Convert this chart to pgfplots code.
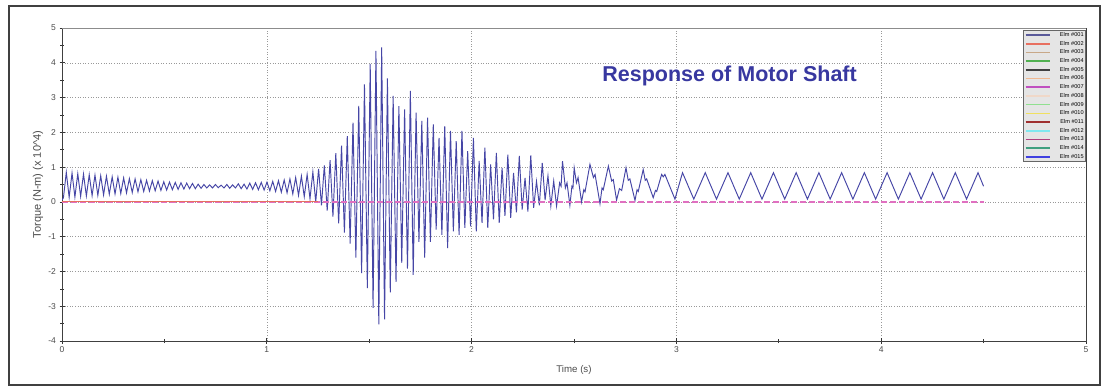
\documentclass[border=0pt]{standalone}
\usepackage{pgfplots}
\pgfplotsset{compat=1.18}
\usepackage{fontspec}
\setmainfont{Liberation Sans}
\definecolor{sig}{HTML}{4646A6}
\definecolor{ttl}{HTML}{3838A0}
\definecolor{c01}{HTML}{5A5A9A}
\definecolor{c02}{HTML}{E87060}
\definecolor{c03}{HTML}{C8A888}
\definecolor{c04}{HTML}{50B050}
\definecolor{c05}{HTML}{404040}
\definecolor{c06}{HTML}{F0B890}
\definecolor{c07}{HTML}{C050C0}
\definecolor{c08}{HTML}{F0D8C8}
\definecolor{c09}{HTML}{90E090}
\definecolor{c10}{HTML}{F0E060}
\definecolor{c11}{HTML}{A03030}
\definecolor{c12}{HTML}{80E8F0}
\definecolor{c13}{HTML}{B04080}
\definecolor{c14}{HTML}{40A080}
\definecolor{c15}{HTML}{4040E0}
\definecolor{zpink}{HTML}{E070C0}
\begin{document}
\begin{tikzpicture}[x=1pt,y=1pt]
\path[use as bounding box] (0,0) rectangle (1108,388);
\fill[white] (0,0) rectangle (1108,388);
\draw[line width=1.2pt, black!75] (9,3) rectangle (1100,382);
\begin{axis}[at={(62pt,47pt)}, anchor=south west, scale only axis,
 width=1024pt, height=313pt,
 xmin=0, xmax=5, ymin=-4, ymax=5,
 xtick={0,1,2,3,4,5}, ytick={-4,-3,-2,-1,0,1,2,3,4,5}, minor tick num=1,
 tick align=center, major tick length=5pt, minor tick length=4pt,
 tick pos=left,
 grid=major, major grid style={black!40, dash pattern=on 0.8pt off 1.8pt},
 axis line style={black!75, line width=0.8pt},
 tick style={black!80, line width=0.6pt},
 ticklabel style={font=\fontsize{8.5}{10}\selectfont, text=black!70},
 /pgf/number format/assume math mode=true,
 xlabel={Time (s)}, ylabel={Torque (N-m) (x 10\^{}4)},
 xlabel style={font=\fontsize{9.7}{11}\selectfont, text=black!70, at={(axis description cs:0.5,-0.0927)}, anchor=center},
 ylabel style={font=\fontsize{11}{12}\selectfont, text=black!70, at={(axis description cs:-0.0234,0.5)}, anchor=center},
 legend style={at={(rel axis cs:0.9385,0.9936)}, anchor=north west,
   fill=black!10, draw=black!60, line width=0.6pt,
   font=\fontsize{5.6}{6}\selectfont, inner sep=1.5pt, row sep=2.3pt,
   nodes={inner sep=0.6pt, text height=4pt, text depth=1.2pt},
   /tikz/every odd column/.append style={column sep=9pt}},
 legend cell align=right,
 legend image code/.code={\draw[line width=1.6pt,#1] (0pt,0pt) -- (24pt,0pt);},
]
\addplot[sig, line width=0.95pt, forget plot] coordinates {
(0,0.05)
(0.007,0.12)(0.021,0.85)(0.035,0.13)(0.049,0.83)(0.063,0.14)(0.077,0.81)(0.091,0.16)(0.105,0.80)
(0.119,0.17)(0.133,0.78)(0.147,0.18)(0.161,0.77)(0.175,0.19)(0.189,0.75)(0.203,0.20)(0.217,0.74)
(0.231,0.22)(0.245,0.72)(0.259,0.23)(0.273,0.71)(0.287,0.24)(0.301,0.69)(0.315,0.26)(0.329,0.67)
(0.343,0.27)(0.357,0.66)(0.371,0.29)(0.385,0.64)(0.399,0.30)(0.413,0.62)(0.427,0.31)(0.441,0.61)
(0.455,0.32)(0.469,0.60)(0.483,0.33)(0.497,0.58)(0.511,0.34)(0.525,0.57)(0.539,0.35)(0.553,0.56)
(0.567,0.36)(0.581,0.55)(0.595,0.37)(0.609,0.54)(0.623,0.38)(0.637,0.53)(0.651,0.38)(0.665,0.51)
(0.679,0.39)(0.693,0.50)(0.707,0.40)(0.721,0.49)(0.735,0.40)(0.749,0.50)(0.763,0.41)(0.777,0.48)
(0.791,0.40)(0.805,0.50)(0.819,0.39)(0.833,0.49)(0.847,0.40)(0.861,0.52)(0.875,0.38)(0.889,0.51)
(0.903,0.37)(0.917,0.54)(0.931,0.36)(0.945,0.55)(0.959,0.35)(0.973,0.56)(0.987,0.34)(1.001,0.57)
(1.015,0.32)(1.029,0.59)(1.043,0.30)(1.057,0.61)(1.071,0.28)(1.085,0.63)(1.099,0.26)(1.113,0.66)
(1.127,0.23)(1.141,0.70)(1.155,0.19)(1.169,0.74)(1.183,0.15)(1.197,0.79)(1.211,0.09)(1.225,0.86)
(1.239,0.00)(1.253,0.95)(1.267,-0.10)(1.281,1.05)(1.295,-0.25)(1.309,1.20)(1.323,-0.42)(1.337,1.40)
(1.351,-0.62)(1.365,1.62)(1.379,-0.88)(1.393,1.89)(1.407,-1.20)(1.421,2.28)(1.435,-1.60)(1.449,2.76)
(1.463,-2.05)(1.477,3.38)(1.491,-2.48)(1.505,3.96)(1.519,-3.05)(1.533,4.34)(1.547,-3.52)(1.561,4.44)
(1.575,-3.38)(1.589,3.55)(1.603,-2.60)(1.617,3.05)(1.631,-2.30)(1.645,2.75)(1.659,-1.75)(1.673,2.66)
(1.687,-1.92)(1.701,3.19)(1.715,-2.10)(1.729,2.57)(1.743,-1.15)(1.757,2.33)(1.771,-1.60)(1.785,2.42)
(1.799,-1.15)(1.813,2.23)(1.827,-0.80)(1.841,1.84)(1.855,-0.95)(1.869,2.18)(1.883,-1.33)(1.897,2.04)
(1.911,-0.85)(1.925,1.75)(1.939,-0.95)(1.953,2.04)(1.967,-0.75)(1.981,1.46)(1.995,-0.70)(2.009,1.84)
(2.023,-0.85)(2.037,1.18)(2.051,-0.60)(2.065,1.56)(2.079,-0.75)(2.093,1.08)(2.107,-0.50)(2.121,1.41)
(2.135,-0.60)(2.149,0.98)(2.163,-0.40)(2.177,1.36)(2.191,-0.46)(2.205,0.83)(2.219,-0.30)(2.233,1.32)
(2.247,-0.22)(2.261,0.69)(2.275,-0.28)(2.289,1.34)(2.303,-0.17)(2.317,0.59)(2.331,-0.10)(2.345,1.12)
(2.359,0.05)(2.373,0.75)(2.387,-0.12)(2.401,0.60)(2.415,-0.12)(2.430,0.55)(2.437,0.45)(2.444,1.17)
(2.458,0.40)(2.466,0.55)(2.480,-0.10)(2.490,0.45)(2.495,0.40)(2.501,0.98)(2.512,0.55)(2.520,0.70)
(2.537,0.00)(2.548,0.35)(2.554,0.29)(2.578,1.08)(2.595,0.70)(2.603,0.79)(2.627,-0.05)(2.637,0.40)
(2.643,0.35)(2.668,1.03)(2.684,0.60)(2.692,0.64)(2.708,0.05)(2.722,0.38)(2.733,0.33)(2.754,0.98)
(2.765,0.62)(2.773,0.66)(2.798,0.04)(2.808,0.35)(2.814,0.30)(2.838,0.93)(2.848,0.62)(2.855,0.66)
(2.887,0.12)(2.898,0.33)(2.904,0.30)(2.928,0.79)(2.936,0.72)(2.944,0.79)(2.993,0.08)(3.030,0.84)
(3.085,0.08)(3.141,0.84)(3.196,0.08)(3.252,0.84)(3.307,0.08)(3.363,0.84)(3.418,0.08)(3.474,0.84)
(3.529,0.08)(3.585,0.84)(3.640,0.08)(3.696,0.84)(3.751,0.08)(3.807,0.84)(3.862,0.08)(3.918,0.84)
(3.973,0.08)(4.029,0.84)(4.084,0.08)(4.140,0.84)(4.195,0.08)(4.251,0.84)(4.306,0.08)(4.362,0.84)
(4.417,0.08)(4.473,0.84)(4.500,0.45)
};
\addplot[zpink, line width=1.4pt, dash pattern=on 6pt off 3pt, forget plot] coordinates {(0,0) (4.5,0)};
\addplot[c02, line width=0.8pt, forget plot] coordinates {(0,0) (1.25,0)};
\draw[black!45, line width=0.8pt] (rel axis cs:0,1) -- (rel axis cs:1,1) -- (rel axis cs:1,0);
\node[font=\bfseries\fontsize{21.5}{24}\selectfont, text=ttl] at (axis cs:3.26,3.62) {Response of Motor Shaft};
\addlegendimage{draw=c01}\addlegendentry{Elm \#001}
\addlegendimage{draw=c02}\addlegendentry{Elm \#002}
\addlegendimage{draw=c03}\addlegendentry{Elm \#003}
\addlegendimage{draw=c04}\addlegendentry{Elm \#004}
\addlegendimage{draw=c05}\addlegendentry{Elm \#005}
\addlegendimage{draw=c06}\addlegendentry{Elm \#006}
\addlegendimage{draw=c07}\addlegendentry{Elm \#007}
\addlegendimage{draw=c08}\addlegendentry{Elm \#008}
\addlegendimage{draw=c09}\addlegendentry{Elm \#009}
\addlegendimage{draw=c10}\addlegendentry{Elm \#010}
\addlegendimage{draw=c11}\addlegendentry{Elm \#011}
\addlegendimage{draw=c12}\addlegendentry{Elm \#012}
\addlegendimage{draw=c13}\addlegendentry{Elm \#013}
\addlegendimage{draw=c14}\addlegendentry{Elm \#014}
\addlegendimage{draw=c15}\addlegendentry{Elm \#015}
\end{axis}
\end{tikzpicture}
\end{document}
